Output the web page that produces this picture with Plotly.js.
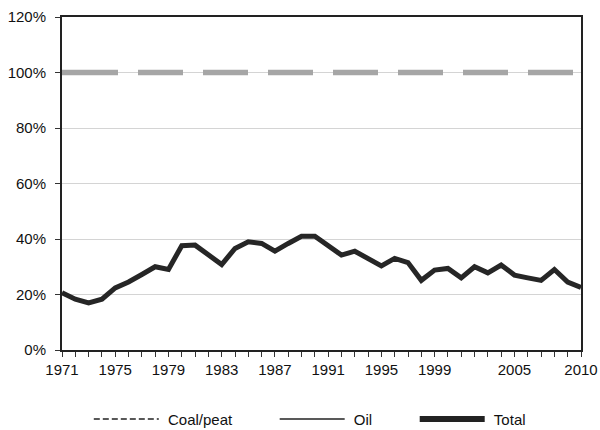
<!DOCTYPE html>
<html>
<head>
<meta charset="utf-8">
<script src="https://cdn.plot.ly/plotly-3.0.1.min.js"></script>
<style>html,body{margin:0;padding:0;background:#fff;}#chart{width:600px;height:430px;}</style>
</head>
<body>
<div id="chart"></div>
<script>
var years = [1971,1972,1973,1974,1975,1976,1977,1978,1979,1980,1981,1982,1983,1984,1985,1986,1987,1988,1989,1990,
             1991,1992,1993,1994,1995,1996,1997,1998,1999,2000,2001,2002,2003,2004,2005,2006,2007,2008,2009,2010];
var coalPeat = [100,100,100,100,100,100,100,100,100,100,100,100,100,100,100,100,100,100,100,100,
                100,100,100,100,100,100,100,100,100,100,100,100,100,100,100,100,100,100,100,100];
var total = [20.6,18.3,17.0,18.3,22.4,24.5,27.2,30.0,29.0,37.6,37.8,34.3,30.8,36.6,39.0,38.4,35.6,38.4,41.0,41.0,
             37.8,34.2,35.6,33.0,30.3,33.0,31.5,25.1,28.8,29.4,26.0,30.0,27.8,30.6,27.0,26.0,25.1,29.0,24.5,22.5];
var seriesNames = ['Coal/peat', 'Oil', 'Total'];
var xTickVals = [1971,1975,1979,1983,1987,1991,1995,1999,2005,2010];
var yTickVals = [0,20,40,60,80,100,120];

var font = 'Liberation Sans, Arial, sans-serif';
var lead = '\u00a0';
var pad = '\u00a0\u00a0\u00a0\u00a0\u00a0\u00a0\u00a0\u00a0\u00a0';
var traces = [
  {x: years, y: coalPeat, mode: 'lines', showlegend: false, hoverinfo: 'skip',
   line: {color: '#a6a6a6', width: 5.5,
          dash: '56px,20px,45px,20px,45px,20px,45px,20px,45px,20px,45px,20px,45px,20px,45px,20px,45px,20px'}},
  {x: years, y: total, mode: 'lines', showlegend: false,
   line: {color: '#262626', width: 5}},
  {x: [null], y: [null], mode: 'lines', name: lead + seriesNames[0] + pad, line: {color: '#222', width: 1.5, dash: '6px,3px'}},
  {x: [null], y: [null], mode: 'lines', name: lead + seriesNames[1] + pad, line: {color: '#222', width: 1.5}},
  {x: [null], y: [null], mode: 'lines', name: lead + seriesNames[2], line: {color: '#222', width: 6}}
];
var layout = {
  width: 600, height: 430,
  margin: {l: 62, r: 19, t: 17, b: 80},
  paper_bgcolor: '#fff', plot_bgcolor: '#fff',
  font: {family: font, size: 15, color: '#111'},
  xaxis: {range: [1971, 2010], tickmode: 'array', tickvals: xTickVals, ticktext: xTickVals.map(String),
          ticks: 'outside', ticklen: 5, tickcolor: '#333', showgrid: false, zeroline: false,
          showline: true, linecolor: '#222', linewidth: 2, mirror: true,
          minor: {tickmode: 'linear', tick0: 1971, dtick: 1, ticks: 'outside', ticklen: 5, tickcolor: '#333', showgrid: false},
          tickfont: {size: 15, family: font, color: '#111'}, fixedrange: true},
  yaxis: {range: [0, 120], tickmode: 'array', tickvals: yTickVals, ticktext: yTickVals.map(function(v){return v + '%';}),
          ticks: 'outside', ticklen: 5, tickcolor: '#333', ticklabelstandoff: 6,
          showgrid: true, gridcolor: '#d4d4d4', gridwidth: 1,
          zeroline: false, showline: true, linecolor: '#222', linewidth: 2, mirror: true,
          tickfont: {size: 15, family: font, color: '#111'}, fixedrange: true},
  legend: {orientation: 'h', xref: 'container', x: 0.148, xanchor: 'left',
           yref: 'container', y: 0.025, yanchor: 'middle',
           font: {size: 15, family: font, color: '#111'}, itemwidth: 65, bgcolor: 'rgba(0,0,0,0)'}
};
Plotly.newPlot('chart', traces, layout, {displayModeBar: false, staticPlot: true});
</script>
</body>
</html>
